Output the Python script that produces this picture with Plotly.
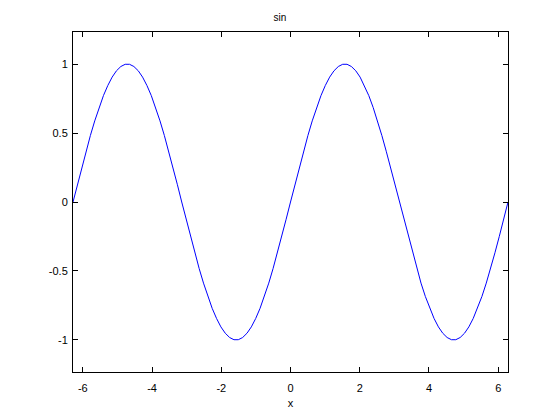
import plotly.graph_objects as go

x_vals = [-6.283, -6.158, -6.032, -5.906, -5.781, -5.655, -5.529, -5.404, -5.278, -5.152,
          -5.027, -4.901, -4.775, -4.650, -4.524, -4.398, -4.273, -4.147, -4.021, -3.896,
          -3.770, -3.644, -3.519, -3.393, -3.267, -3.142, -3.016, -2.890, -2.765, -2.639,
          -2.513, -2.388, -2.262, -2.136, -2.011, -1.885, -1.759, -1.634, -1.508, -1.382,
          -1.257, -1.131, -1.005, -0.880, -0.754, -0.628, -0.503, -0.377, -0.251, -0.126,
          0.000, 0.126, 0.251, 0.377, 0.503, 0.628, 0.754, 0.880, 1.005, 1.131,
          1.257, 1.382, 1.508, 1.634, 1.759, 1.885, 2.011, 2.136, 2.262, 2.388,
          2.513, 2.639, 2.765, 2.890, 3.016, 3.142, 3.267, 3.393, 3.519, 3.644,
          3.770, 3.896, 4.021, 4.147, 4.273, 4.398, 4.524, 4.650, 4.775, 4.901,
          5.027, 5.152, 5.278, 5.404, 5.529, 5.655, 5.781, 5.906, 6.032, 6.158, 6.283]
y_vals = [0.000, 0.125, 0.249, 0.368, 0.482, 0.588, 0.685, 0.771, 0.844, 0.905,
          0.951, 0.982, 0.998, 0.998, 0.982, 0.951, 0.905, 0.844, 0.771, 0.685,
          0.588, 0.482, 0.368, 0.249, 0.125, 0.000, -0.125, -0.249, -0.368, -0.482,
          -0.588, -0.685, -0.771, -0.844, -0.905, -0.951, -0.982, -0.998, -0.998, -0.982,
          -0.951, -0.905, -0.844, -0.771, -0.685, -0.588, -0.482, -0.368, -0.249, -0.125,
          0.000, 0.125, 0.249, 0.368, 0.482, 0.588, 0.685, 0.771, 0.844, 0.905,
          0.951, 0.982, 0.998, 0.998, 0.982, 0.951, 0.905, 0.844, 0.771, 0.685,
          0.588, 0.482, 0.368, 0.249, 0.125, 0.000, -0.125, -0.249, -0.368, -0.482,
          -0.588, -0.685, -0.771, -0.844, -0.905, -0.951, -0.982, -0.998, -0.998, -0.982,
          -0.951, -0.905, -0.844, -0.771, -0.685, -0.588, -0.482, -0.368, -0.249, -0.125, 0.000]
x_ticks = [-6, -4, -2, 0, 2, 4, 6]
y_ticks = [-1, -0.5, 0, 0.5, 1]
y_tick_text = ["-1", "-0.5", "0", "0.5", "1"]

FONT = "Liberation Sans, Arial, Helvetica"

fig = go.Figure(go.Scatter(x=x_vals, y=y_vals, mode="lines",
                           line=dict(color="#0000ff", width=1)))

axis_common = dict(showline=True, linecolor="black", linewidth=1, mirror="ticks",
                   ticks="inside", ticklen=5, tickcolor="black", tickwidth=1,
                   showgrid=False, zeroline=False,
                   tickfont=dict(family=FONT, size=11, color="black"))

fig.update_layout(
    width=560, height=420,
    margin=dict(l=73, r=52, t=32, b=46),
    paper_bgcolor="white", plot_bgcolor="white",
    showlegend=False,
    title=dict(text="sin", x=0.5, xanchor="center", y=1 - 17 / 420, yanchor="middle",
               font=dict(family=FONT, size=10, color="black")),
    xaxis=dict(range=[-6.283, 6.283], tickvals=x_ticks, ticktext=[str(v) for v in x_ticks],
               ticklabelstandoff=6,
               title=dict(text="x", standoff=6, font=dict(family=FONT, size=11, color="black")),
               **axis_common),
    yaxis=dict(range=[-1.232, 1.232], tickvals=y_ticks, ticktext=y_tick_text,
               ticklabelstandoff=2, **axis_common),
)

fig.write_html("out.html", config={"displayModeBar": False},
               post_script="document.body.style.margin='0';")
